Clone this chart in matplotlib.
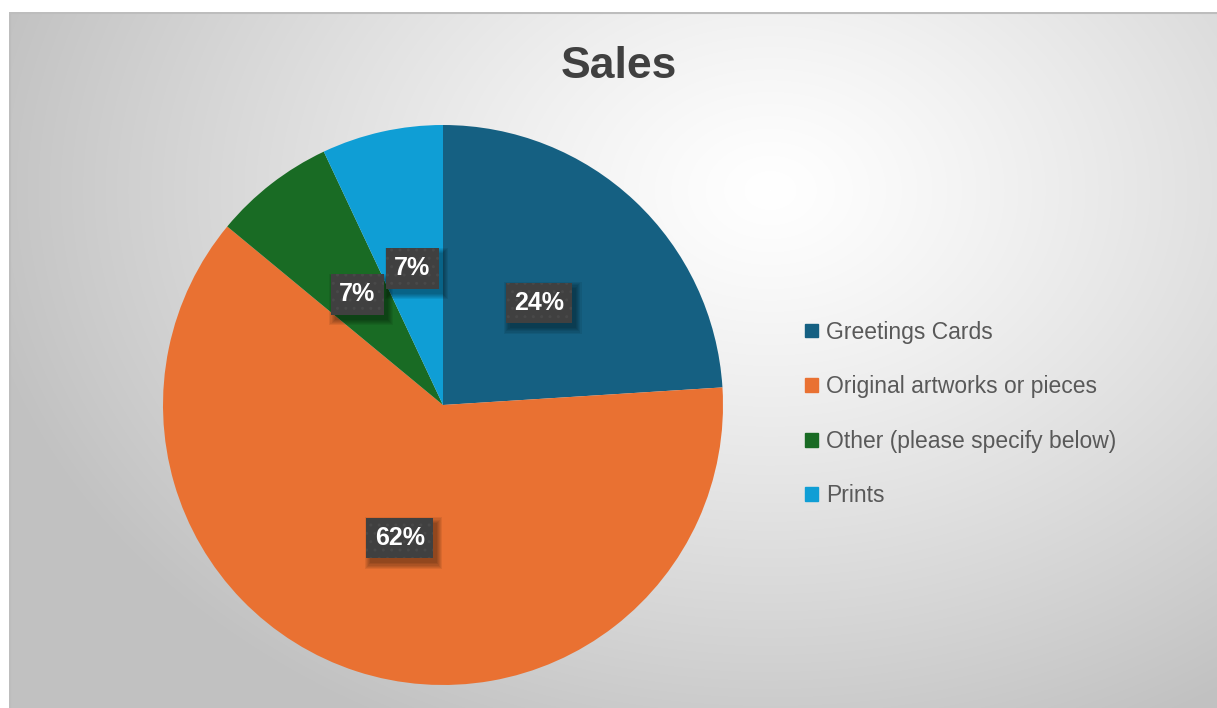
import numpy as np
import matplotlib.pyplot as plt
import matplotlib.patches as mpatches

# Données
categories = ["Greetings Cards", "Original artworks or pieces",
              "Other (please specify below)", "Prints"]
shares = [24, 62, 7, 7]
colors = ["#156082", "#E97132", "#196B24", "#0F9ED5"]
title = "Sales"

plt.rcParams['font.family'] = ['Liberation Sans', 'DejaVu Sans']

W, H = 1217, 708
fig = plt.figure(figsize=(W / 100, H / 100), dpi=100)
fig.patch.set_facecolor("white")

# fond avec dégradé radial (zone du graphique)
x0, y0 = 9, 12
bg = fig.add_axes([x0 / W, 0, 1 - x0 / W, 1 - y0 / H])
xx, yy = np.meshgrid(np.arange(x0, W), np.arange(y0, H))
d = np.sqrt(((xx - 770) / 800) ** 2 + ((yy - 190) / 600) ** 2)
d = np.clip(d, 0, 1)
val = 1.0 - 0.24 * d ** 1.2
img = np.dstack([val, val, val])
bg.imshow(img, aspect="auto", extent=(0, 1, 0, 1), origin="upper")
bg.set_xlim(0, 1)
bg.set_ylim(0, 1)
bg.axis("off")
bg.plot([0, 1], [0.999, 0.999], color="#bdbdbd", lw=1.5)
bg.plot([0.0005, 0.0005], [0, 1], color="#bdbdbd", lw=1.5)

# camembert
cx, cy, r = 443, 405, 280
ax = fig.add_axes([(cx - r) / W, (H - cy - r) / H, 2 * r / W, 2 * r / H])
wedges, _ = ax.pie(shares, colors=colors, startangle=90, counterclock=False,
                   radius=1, wedgeprops=dict(linewidth=0))
ax.set_xlim(-1, 1)
ax.set_ylim(-1, 1)
ax.set_aspect("equal")
ax.axis("off")

# étiquettes de pourcentage
labels = []
for w, v in zip(wedges, shares):
    mid = np.deg2rad((w.theta1 + w.theta2) / 2)
    px, py = 0.5 * np.cos(mid), 0.5 * np.sin(mid)
    t = ax.text(px, py, f"{v}%", ha="center", va="center",
                fontsize=18, fontweight="bold", color="white", zorder=5,
                bbox=dict(boxstyle="square,pad=0.33", facecolor="#404040",
                          edgecolor="#494949", hatch="..", linewidth=0))
    labels.append(t)

# ombres floues sous les étiquettes
fig.canvas.draw()
rend = fig.canvas.get_renderer()
inv = ax.transData.inverted()
for t in labels:
    bb = t.get_bbox_patch().get_window_extent(rend)
    for k in range(6):
        g = k * 1.1
        (ax0, ay0), (ax1, ay1) = inv.transform([(bb.x0 + 4 - g, bb.y0 - 5 - g),
                                                (bb.x1 + 4 + g, bb.y1 - 5 + g)])
        ax.add_patch(mpatches.Rectangle((ax0, ay0), ax1 - ax0, ay1 - ay0,
                                        facecolor="black", alpha=0.07,
                                        linewidth=0, zorder=4))
ax.set_xlim(-1, 1)
ax.set_ylim(-1, 1)

# titre
fig.text(619 / W, 1 - 66 / H, title, ha="center", va="center",
         fontsize=32, fontweight="bold", color="#404040")

# légende
handles = [mpatches.Patch(color=c, label=l) for c, l in zip(colors, categories)]
leg = fig.legend(handles=handles, loc="center left",
                 bbox_to_anchor=(805 / W, 1 - 414 / H), frameon=False,
                 fontsize=16.5, labelcolor="#595959", handlelength=0.55,
                 handleheight=0.55, handletextpad=0.35, labelspacing=1.38,
                 borderpad=0, borderaxespad=0)

fig.savefig("out.png", dpi=100)
